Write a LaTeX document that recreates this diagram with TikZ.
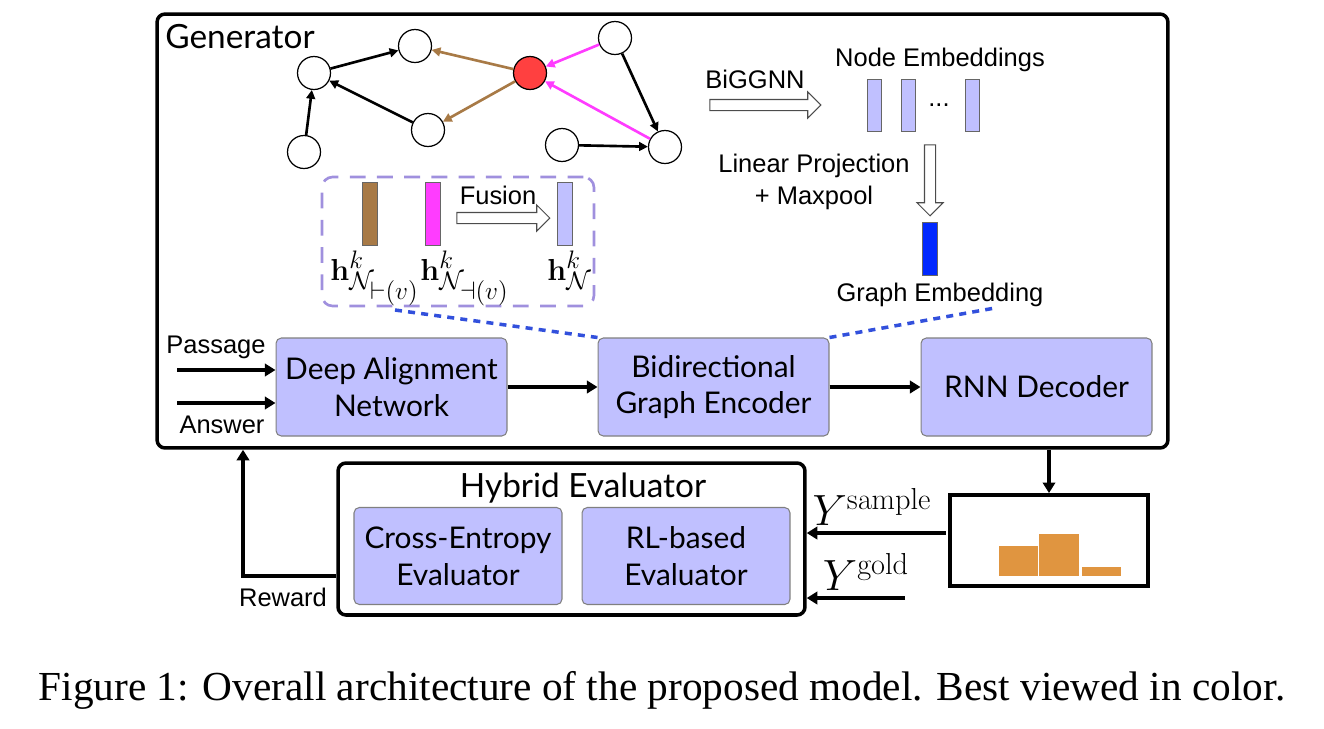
\documentclass[tikz,border=0pt]{standalone}
\usepackage[no-math]{fontspec}
\setmainfont{Liberation Serif}
\newfontfamily\avenir{Lato}
\newfontfamily\helv{Liberation Sans}
\usetikzlibrary{arrows.meta,shapes.arrows}

\definecolor{lav}{RGB}{192,192,255}
\definecolor{fusepurple}{RGB}{160,144,222}
\definecolor{edgebrown}{RGB}{168,122,70}
\definecolor{edgepink}{RGB}{255,60,255}
\definecolor{nodered}{RGB}{255,64,64}
\definecolor{embblue}{RGB}{0,40,255}
\definecolor{linkblue}{RGB}{50,80,220}
\definecolor{historange}{RGB}{224,149,64}

\begin{document}
\begin{tikzpicture}[x=0.02cm, y=-0.02cm,
	gnode/.style = {circle, draw, line width=0.7pt,
		minimum size=0.66cm, inner sep=0pt, fill=white},
	gedge/.style = {-{Triangle[length=5pt,width=5pt]}, line width=1.5pt},
	flow/.style = {-{Triangle[length=6pt,width=7pt]}, line width=2.2pt},
	block/.style = {rectangle, rounded corners=3pt, draw=black!50,
		line width=0.6pt, fill=lav, align=center,
		minimum width=4.62cm, minimum height=1.96cm,
		font=\avenir\fontsize{17}{21}\selectfont},
	panel/.style = {rectangle, rounded corners=4.5pt, draw,
		line width=2pt, inner sep=0pt},
	vec/.style = {rectangle, draw=black!60, line width=0.5pt, inner sep=0pt,
		minimum width=0.3cm, minimum height=1.26cm},
	hollow/.style = {single arrow, draw=black!70, line width=0.6pt, fill=white,
		inner sep=0.1cm, single arrow head extend=0.15cm, minimum width=0pt},
	lbl/.style = {font=\helv\fontsize{14.5}{18}\selectfont,
		align=center, inner sep=0pt},
	mlbl/.style = {font=\fontsize{19}{23}\selectfont, inner sep=0pt},
	title/.style = {font=\avenir\fontsize{19}{23}\selectfont, inner sep=0pt},
	link/.style = {linkblue, line width=2pt, dash pattern=on 4pt off 3.5pt}]

	\useasboundingbox (0,0) rectangle (1324,728);

	\node[panel, minimum width=20.22cm, minimum height=8.68cm] (gen) at (662.5,231) {};
	\node[title, anchor=west] (gentitle) at (165,37) {Generator};

	\node[gnode] (ga) at (314,73) {};
	\node[gnode] (gb) at (415,46) {};
	\node[gnode] (gc) at (304,152) {};
	\node[gnode] (gd) at (428,130) {};
	\node[gnode, fill=nodered] (gr) at (530,73) {};
	\node[gnode] (ge) at (615,38) {};
	\node[gnode] (gf) at (665,147) {};
	\node[gnode] (gg) at (562,145) {};

	\draw[gedge] (gc) -- (ga);
	\draw[gedge] (ga) -- (gb);
	\draw[gedge] (gd) -- (ga);
	\draw[gedge, edgebrown] (gr) -- (gb);
	\draw[gedge, edgebrown] (gr) -- (gd);
	\draw[gedge, edgepink] (ge) -- (gr);
	\draw[gedge, edgepink] (gf) -- (gr);
	\draw[gedge] (ge) -- (gf);
	\draw[gedge] (gg) -- (gf);

	\node[rectangle, rounded corners=6pt, draw=fusepurple, line width=1.5pt,
		dash pattern=on 9pt off 6.5pt,
		minimum width=5.44cm, minimum height=2.58cm] (fus) at (458,241.5) {};
	\node[vec, fill=edgebrown] (hfw) at (370,214) {};
	\node[vec, fill=edgepink] (hbw) at (433,214) {};
	\node[vec, fill=lav] (hnb) at (565,214) {};
	\node[hollow, minimum height=1.86cm] (fusarr) at (500.5,218) {};
	\node[lbl] (fuslbl) at (498,195) {Fusion};
	\node[mlbl, anchor=base west] (hfwlbl) at (330,280) {$\mathbf{h}^{k}_{\mathcal{N}_{\scriptstyle\vdash(v)}}$};
	\node[mlbl, anchor=base west] (hbwlbl) at (420,280) {$\mathbf{h}^{k}_{\mathcal{N}_{\scriptstyle\dashv(v)}}$};
	\node[mlbl, anchor=base west] (hnblbl) at (547,280) {$\mathbf{h}^{k}_{\mathcal{N}}$};

	\node[lbl] (biglbl) at (755,79) {BiGGNN};
	\node[hollow, minimum height=2.22cm] (bigarr) at (762.5,105) {};
	\node[lbl] (nelbl) at (940,60) {Node Embeddings};
	\node[vec, fill=lav, minimum width=0.28cm, minimum height=1.04cm] (ne1) at (874,105) {};
	\node[vec, fill=lav, minimum width=0.28cm, minimum height=1.04cm] (ne2) at (908,105) {};
	\node[vec, fill=lav, minimum width=0.28cm, minimum height=1.04cm] (ne3) at (972,105) {};
	\node[lbl] (nedots) at (939,105) {...};
	\node[hollow, minimum height=1.42cm, shape border rotate=270] (projarr) at (930,177.5) {};
	\node[lbl] (projlbl) at (814,182) {Linear Projection\\+ Maxpool};
	\node[vec, fill=embblue, minimum height=1.06cm] (gemb) at (930,248.5) {};
	\node[lbl] (gelbl) at (940,295) {Graph Embedding};

	\node[block] (dan) at (391.5,387) {Deep Alignment\\Network};
	\node[block] (bge) at (713.5,387) {Bidirectional\\Graph Encoder};
	\node[block] (rnn) at (1036.5,387) {RNN Decoder};

	\node[lbl] (plbl) at (216,347) {Passage};
	\node[lbl] (albl) at (222,425) {Answer};
	\coordinate (pin) at (177,370);
	\coordinate (ain) at (177,403);
	\draw[flow] (pin) -- (pin -| dan.west);
	\draw[flow] (ain) -- (ain -| dan.west);
	\draw[flow] (dan) -- (bge);
	\draw[flow] (bge) -- (rnn);

	\coordinate (fusend) at (395,310);
	\coordinate (gemend) at (995,308);
	\draw[link] (fusend) -- (bge.north west);
	\draw[link] (bge.north east) -- (gemend);

	\node[panel, minimum width=9.34cm, minimum height=3.04cm] (hyb) at (571.5,539) {};
	\node[title] (hyblbl) at (583,488) {Hybrid Evaluator};
	\node[block, minimum width=4.16cm, minimum height=1.94cm] (ce) at (458,556) {Cross-Entropy\\Evaluator};
	\node[block, minimum width=4.16cm, minimum height=1.94cm] (rl) at (686,556) {RL-based\\Evaluator};

	\node[rectangle, draw, line width=2.2pt, inner sep=0pt,
		minimum width=3.96cm, minimum height=1.82cm] (hist) at (1049,540.5) {};
	\fill[historange] (999,546) rectangle (1038,576);
	\fill[historange] (1039,534) rectangle (1079,576);
	\fill[historange] (1082,567) rectangle (1121,576);
	\draw[flow] (hist.north |- gen.south) -- (hist.north);

	\coordinate (ysin) at (946,533);
	\coordinate (ygin) at (905,598);
	\draw[flow] (ysin) -- (ysin -| hyb.east);
	\draw[flow] (ygin) -- (ygin -| hyb.east);
	\node[font=\fontsize{24}{28}\selectfont, inner sep=0pt] (yslbl) at (872,507) {$Y^{\mathrm{sample}}$};
	\node[font=\fontsize{24}{28}\selectfont, inner sep=0pt] (yglbl) at (866,572) {$Y^{\mathrm{gold}}$};

	\coordinate (rwc) at (243,576);
	\draw[flow] (rwc -| hyb.west) -- (rwc) -- (rwc |- gen.south);
	\node[lbl] (rwlbl) at (283,597) {Reward};

	\node[font=\fontsize{23.5}{28}\selectfont, inner sep=0pt] (cap) at (662,690)
		{Figure 1: Overall architecture of the proposed model. Best viewed in color.};

\end{tikzpicture}
\end{document}
